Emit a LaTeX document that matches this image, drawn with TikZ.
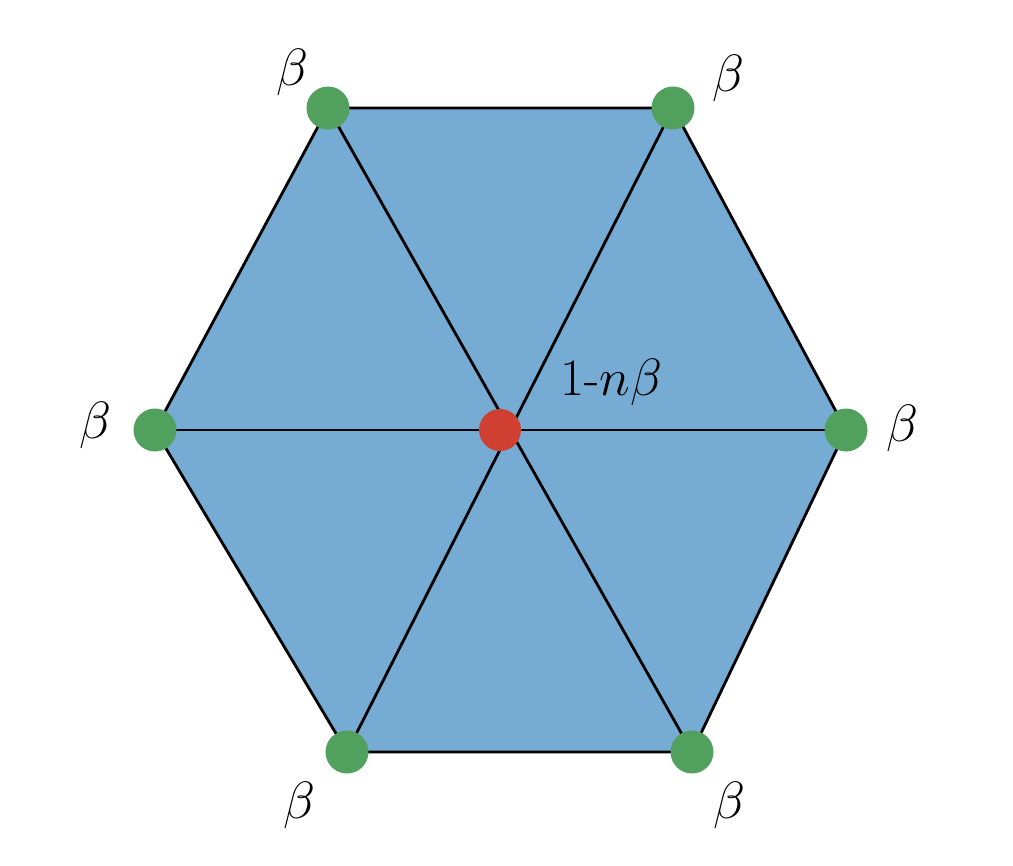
\documentclass[tikz,border=0pt]{standalone}
\usepackage{amsmath}
\usepackage{tikz}

\definecolor{cellblue}{RGB}{118,172,211}
\definecolor{siteg}{RGB}{82,160,94}
\definecolor{siter}{RGB}{208,64,50}

\begin{document}
\begin{tikzpicture}[x=0.02cm, y=-0.02cm, edge/.style={line width=1.6pt}, outer/.style={circle, fill=siteg, inner sep=0pt, minimum size=0.86cm}, inner/.style={circle, fill=siter, inner sep=0pt, minimum size=0.84cm}, wt/.style={font=\fontsize{24}{28}\selectfont, scale=1.2}]
  \useasboundingbox (0, 0) rectangle (1013, 865);
  \coordinate (V1) at (328, 108);
  \coordinate (V2) at (673, 108);
  \coordinate (V3) at (846, 430);
  \coordinate (V4) at (692, 752);
  \coordinate (V5) at (347, 752);
  \coordinate (V6) at (155, 430);
  \coordinate (C) at (500, 430);
  \fill[cellblue] (V1) -- (V2) -- (V3) -- (V4) -- (V5) -- (V6) -- cycle;
  \draw[edge] (V1) -- (V2) -- (V3) -- (V4) -- (V5) -- (V6) -- cycle;
  \draw[edge] (V1) -- (V4);
  \draw[edge] (V2) -- (V5);
  \draw[edge] (V3) -- (V6);
  \node[outer] (P1) at (V1) {};
  \node[outer] (P2) at (V2) {};
  \node[outer] (P3) at (V3) {};
  \node[outer] (P4) at (V4) {};
  \node[outer] (P5) at (V5) {};
  \node[outer] (P6) at (V6) {};
  \node[inner] (P0) at (C) {};
  \node[wt] (L1) at (292, 72) {$\beta$};
  \node[wt] (L2) at (728, 78) {$\beta$};
  \node[wt] (L3) at (902, 428) {$\beta$};
  \node[wt] (L4) at (729, 805) {$\beta$};
  \node[wt] (L5) at (299, 805) {$\beta$};
  \node[wt] (L6) at (95, 425) {$\beta$};
  \node[wt] (L0) at (611, 382) {$1\text{-}n\beta$};
\end{tikzpicture}
\end{document}
